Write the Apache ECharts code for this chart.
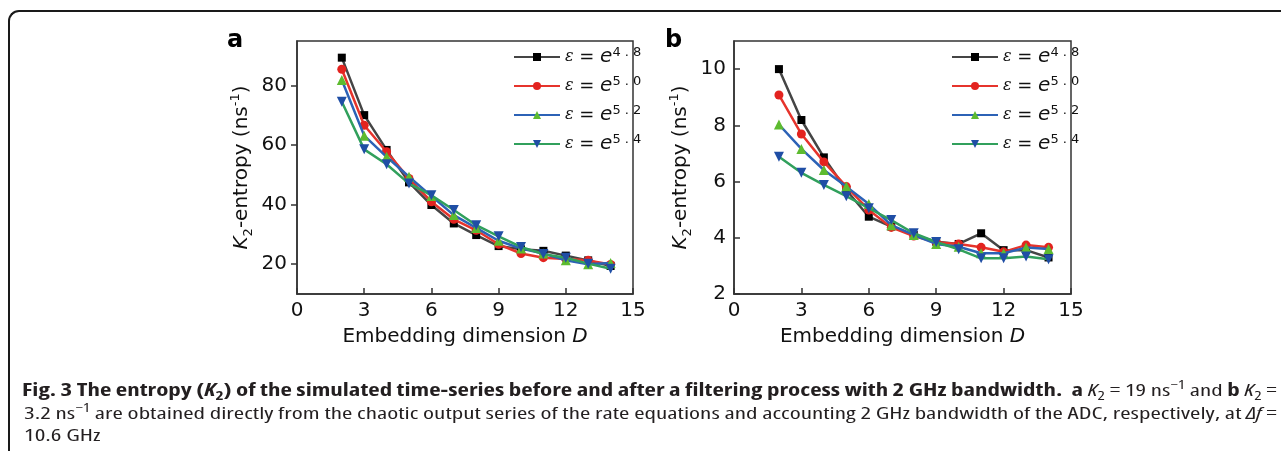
<!DOCTYPE html>
<html><head><meta charset="utf-8">
<script src="https://cdn.jsdelivr.net/npm/echarts@6/dist/echarts.min.js"></script>
<style>
html,body{margin:0;padding:0;background:#fff;}
#wrap{position:relative;width:1281px;height:451px;overflow:hidden;background:#fff;}
#chart{position:absolute;left:0;top:0;width:1281px;height:451px;}
#frame{position:absolute;left:8px;top:10px;width:1320px;height:520px;border-top:2px solid #1a1a1a;border-left:2px solid #1a1a1a;border-top-left-radius:11px;pointer-events:none;}
.cap{position:absolute;white-space:nowrap;font-family:"Open Sans","Noto Sans",sans-serif;font-stretch:condensed;font-size:17px;line-height:20px;color:#231f20;font-weight:400;transform-origin:0 0;}
.cap b{font-weight:700;}
.cap sub,.cap sup{font-size:70%;line-height:0;}
</style></head>
<body>
<div id="wrap">
<div id="chart"></div>
<div id="frame"></div>
<div class="cap" id="cap1" style="left:22px;top:380px;"><b>Fig. 3 The entropy (<i>K</i><sub>2</sub>) of the simulated time-series before and after a filtering process with 2 GHz bandwidth.</b>&nbsp; <b>a</b> <i>K</i><sub>2</sub> = 19 ns<sup>−1</sup> and <b>b</b> <i>K</i><sub>2</sub> =</div>
<div class="cap" id="cap2" style="left:24px;top:403px;">3.2 ns<sup>−1</sup> are obtained directly from the chaotic output series of the rate equations and accounting 2 GHz bandwidth of the ADC, respectively, at <i>Δf</i> =</div>
<div class="cap" id="cap3" style="left:24px;top:425px;">10.6 GHz</div>
</div>
<script>
// ---- data ----
const dims = [2,3,4,5,6,7,8,9,10,11,12,13,14];
const epsLabels = ['4 . 8','5 . 0','5 . 2','5 . 4'];
const aK48 = [89.4,70.1,58.4,47.5,39.9,33.7,29.8,26.1,25.0,24.5,22.9,21.3,19.4];
const aK50 = [85.5,66.7,57.8,48.8,41.0,35.1,31.4,26.7,23.6,22.2,21.8,21.3,19.9];
const aK52 = [81.9,63.2,56.1,49.4,42.9,36.5,32.2,27.9,25.3,23.6,21.3,20.0,20.4];
const aK54 = [74.6,58.6,53.6,47.1,43.2,38.2,33.1,29.4,25.8,23.4,22.2,20.2,18.5];
const bK48 = [10.0,8.19,6.86,5.70,4.75,4.40,4.10,3.86,3.78,4.16,3.56,3.56,3.30];
const bK50 = [9.08,7.69,6.70,5.82,4.99,4.37,4.06,3.84,3.78,3.66,3.50,3.74,3.66];
const bK52 = [8.03,7.16,6.41,5.82,5.20,4.45,4.10,3.78,3.68,3.45,3.45,3.65,3.60];
const bK54 = [6.88,6.31,5.88,5.48,5.05,4.63,4.16,3.85,3.59,3.27,3.27,3.33,3.24];
const xTicks = [0,3,6,9,12,15];
const aYTicks = [20,40,60,80];
const bYTicks = [2,4,6,8,10];

// ---- styles ----
const FONT = 'DejaVu Sans';
const FS = 20;
const AX = '#333';
const lineColors = ['#454545','#e6342c','#2c62b6','#31a05c'];
const markColors = ['#000000','#e3231f','#5dbb2f','#1f4ea5'];
const symbols = ['rect','circle','triangle','triangle'];
const symSizes = [8,9,10,10];
const symRot = [0,0,0,180];

const pair = arr => dims.map((d,i)=>[d,arr[i]]);

const nameRich = {
  k:{fontStyle:'italic',fontSize:FS,fontFamily:FONT,color:'#111',lineHeight:26},
  t:{fontSize:FS,fontFamily:FONT,color:'#111',lineHeight:26},
  sub:{fontSize:13,fontFamily:FONT,color:'#111',verticalAlign:'bottom',lineHeight:13},
  sup:{fontSize:13,fontFamily:FONT,color:'#111',verticalAlign:'top',lineHeight:13},
  d:{fontStyle:'italic',fontSize:FS,fontFamily:FONT,color:'#111'}
};

function xAxis(gi){
  return {gridIndex:gi,type:'value',min:0,max:15,interval:3,
    axisLine:{show:true,lineStyle:{color:AX,width:1.5}},
    axisTick:{show:true,inside:true,length:6,lineStyle:{color:AX,width:1.5}},
    axisLabel:{color:'#111',fontSize:FS,fontFamily:FONT,margin:7},
    splitLine:{show:false},
    name:'Embedding dimension {d|D}',nameLocation:'middle',nameGap:33,
    nameTextStyle:{fontSize:FS,fontFamily:FONT,color:'#111',rich:nameRich}};
}
function yAxis(gi,min,max,ticks,inside){
  return {gridIndex:gi,type:'value',min:min,max:max,
    axisLine:{show:true,lineStyle:{color:AX,width:1.5}},
    axisTick:{show:true,inside:inside,length:6,customValues:ticks,lineStyle:{color:AX,width:1.5}},
    axisLabel:{color:'#111',fontSize:FS,fontFamily:FONT,margin:inside?8:10,customValues:ticks},
    splitLine:{show:false},
    name:'{k|K}{sub|2}{t|-entropy (ns}{sup|-1}{t|)}',nameLocation:'middle',nameGap:gi===0?42:40,
    nameTextStyle:{fontSize:FS,fontFamily:FONT,color:'#111',rich:nameRich}};
}

const series = [];
[[aK48,aK50,aK52,aK54],[bK48,bK50,bK52,bK54]].forEach((set,gi)=>{
  set.forEach((arr,k)=>{
    series.push({type:'line',name:epsLabels[k],xAxisIndex:gi,yAxisIndex:gi,data:pair(arr),
      symbol:symbols[k],symbolSize:symSizes[k],symbolRotate:symRot[k],showSymbol:true,
      lineStyle:{color:lineColors[k],width:2.5},
      itemStyle:{color:markColors[k]},z:2+k,animation:false});
  });
});

const legendRich = {
  eps:{fontFamily:'DejaVu Serif',fontStyle:'italic',fontSize:16,color:'#111',lineHeight:22},
  eq:{fontFamily:FONT,fontSize:18,color:'#111',lineHeight:22},
  e:{fontFamily:FONT,fontStyle:'italic',fontSize:20,color:'#111',lineHeight:22},
  sup:{fontFamily:FONT,fontSize:13,color:'#111',verticalAlign:'top',lineHeight:13}
};
function legend(left){
  return {left:left,top:41,orient:'vertical',itemWidth:46,itemHeight:10,itemGap:8,
    data:epsLabels,selectedMode:false,
    formatter:n=>'{eps|ε}{eq| = }{e|e}{sup|'+n+'}',
    textStyle:{rich:legendRich,padding:[0,0,0,0]}};
}

const chart = echarts.init(document.getElementById('chart'),null,{renderer:'canvas'});
chart.setOption({
  animation:false,
  backgroundColor:'transparent',
  grid:[{left:297,top:41,width:336,height:253,show:true,borderColor:AX,borderWidth:1.5},
        {left:734,top:41,width:337,height:253,show:true,borderColor:AX,borderWidth:1.5}],
  xAxis:[xAxis(0),xAxis(1)],
  yAxis:[yAxis(0,10,95,aYTicks,false),yAxis(1,2,11,bYTicks,true)],
  legend:[legend(508),legend(946)],
  graphic:[
    {type:'text',left:227,top:29,style:{text:'a',font:'bold 24px "DejaVu Sans"',fill:'#000'}},
    {type:'text',left:665,top:29,style:{text:'b',font:'bold 24px "DejaVu Sans"',fill:'#000'}}
  ],
  series:series
});

// fit caption lines to the justified width of the reference
function fit(){
  const c1=document.getElementById('cap1'),c2=document.getElementById('cap2'),c3=document.getElementById('cap3');
  const s1=1255/c1.getBoundingClientRect().width;
  const s2=1253/c2.getBoundingClientRect().width;
  c1.style.transform='scaleX('+s1+')';
  c2.style.transform='scaleX('+s2+')';
  c3.style.transform='scaleX('+s2+')';
}
if(document.fonts&&document.fonts.ready){document.fonts.ready.then(fit);}else{fit();}
</script>
</body></html>
